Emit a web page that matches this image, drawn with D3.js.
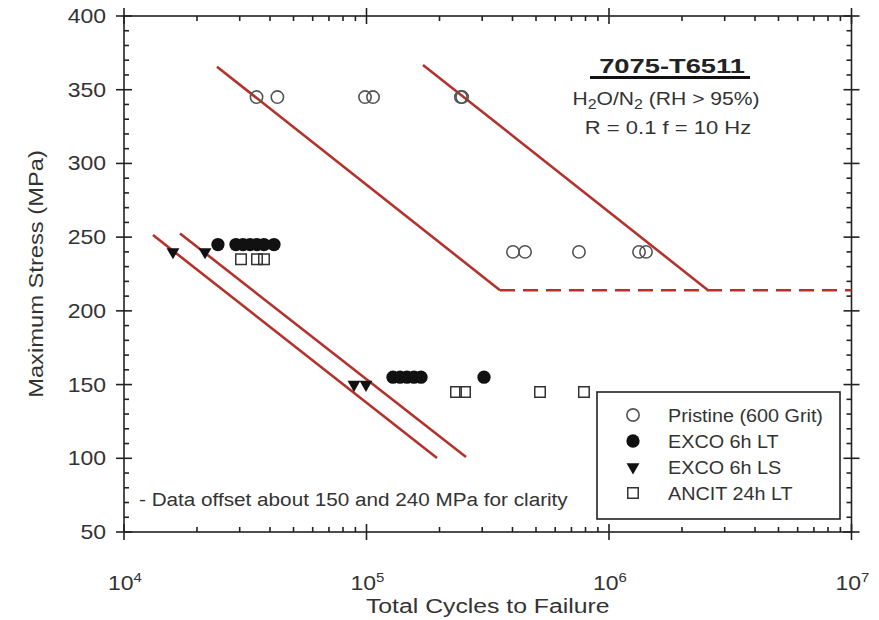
<!DOCTYPE html>
<html>
<head>
<meta charset="utf-8">
<script src="https://cdn.jsdelivr.net/npm/d3@7"></script>
<style>
  html, body { margin: 0; padding: 0; background: #fff; }
  svg text { font-family: "Liberation Sans", Arial, Helvetica, sans-serif; fill: #333; }
</style>
</head>
<body>
<svg id="chart" width="879" height="620"></svg>
<script>
// ---- data ----
const xTickExponents = [4, 5, 6, 7];
const yTickValues = [50, 100, 150, 200, 250, 300, 350, 400];

// Pristine (600 Grit)
const pristineCycles = [35200, 42900, 98600, 106400, 245000, 248000, 401800, 450600, 751900, 1330000, 1421000];
const pristineStress = [345, 345, 345, 345, 345, 345, 240, 240, 240, 240, 240];

// EXCO 6h LT
const excoLTCycles = [24400, 28950, 30960, 33100, 35340, 37770, 41550, 128600, 137500, 146900, 157000, 167800, 305200];
const excoLTStress = [245, 245, 245, 245, 245, 245, 245, 155, 155, 155, 155, 155, 155];

// EXCO 6h LS
const excoLSCycles = [15920, 21580, 88800, 99500];
const excoLSStress = [240, 240, 150, 150];

// ANCIT 24h LT
const ancitCycles = [30380, 35350, 37780, 233900, 254800, 519400, 788500];
const ancitStress = [235, 235, 235, 145, 145, 145, 145];

// fitted trend lines: [cycles, stress] end points
const fitPristineLow = [[24180, 365.6], [355200, 214]];
const fitPristineHigh = [[171000, 366.8], [2560000, 214]];
const fitEnduranceLimit = [[355200, 214], [1e7, 214]];
const fitExcoLS1 = [[13170, 251.4], [195300, 100.2]];
const fitExcoLS2 = [[17020, 252.5], [257200, 100.9]];

const legendLabels = ["Pristine (600 Grit)", "EXCO 6h LT", "EXCO 6h LS", "ANCIT 24h LT"];

// ---- layout ----
const svg = d3.select("#chart");
const plotL = 124, plotR = 851.5, plotT = 16, plotB = 532;
const x = d3.scaleLog().domain([1e4, 1e7]).range([plotL, plotR]);
const y = d3.scaleLinear().domain([50, 400]).range([plotB, plotT]);

const fitColor = "#b3322c";
const axisColor = "#222";

// text placed in a group so the lettering can be widened horizontally
function label(parent, tx, ty, str, size, sx, anchor, rot) {
  const g = parent.append("g")
    .attr("transform", `translate(${tx},${ty})` + (rot ? ` rotate(${rot})` : "") + ` scale(${sx},1)`);
  const t = g.append("text").attr("font-size", size).attr("text-anchor", anchor || "start");
  if (str !== null) t.text(str);
  return t;
}

// ---- frame and ticks ----
const axes = svg.append("g").attr("stroke", axisColor).attr("stroke-width", 1.6);
axes.append("rect").attr("x", plotL).attr("y", plotT).attr("width", plotR - plotL).attr("height", plotB - plotT)
  .attr("fill", "none");

const xAll = x.ticks(); // 1..9 multiples of each decade
const xMajorVals = xTickExponents.map(e => Math.pow(10, e));
const isMajorX = v => xMajorVals.some(m => Math.abs(m - v) / m < 1e-9);
const yAll = d3.range(50, 401, 10);
const isMajorY = v => yTickValues.includes(v);

xAll.forEach(v => {
  const px = x(v);
  const maj = isMajorX(v);
  axes.append("line").attr("x1", px).attr("x2", px).attr("y1", plotB + (maj ? 8 : 0)).attr("y2", plotB - (maj ? 8 : 5));
  axes.append("line").attr("x1", px).attr("x2", px).attr("y1", plotT - (maj ? 8 : 0)).attr("y2", plotT + (maj ? 8 : 5));
});
yAll.forEach(v => {
  const py = y(v);
  const maj = isMajorY(v);
  axes.append("line").attr("y1", py).attr("y2", py).attr("x1", plotL - (maj ? 8 : 0)).attr("x2", plotL + (maj ? 8 : 5));
  axes.append("line").attr("y1", py).attr("y2", py).attr("x1", plotR + (maj ? 8 : 0)).attr("x2", plotR - (maj ? 8 : 5));
});

// tick labels
const tickLayer = svg.append("g");
yTickValues.forEach(v => label(tickLayer, 106, y(v) + 7, String(v), 20, 1.15, "end"));
xTickExponents.forEach(e => {
  const t = label(tickLayer, x(Math.pow(10, e)) + 1, 590, null, 20, 1.15, "middle");
  t.append("tspan").text("10");
  t.append("tspan").attr("dy", -8).attr("font-size", 13).text(e);
});

// axis titles
label(svg, (plotL + plotR) / 2, 613, "Total Cycles to Failure", 21, 1.18, "middle");
label(svg, 43, (plotT + plotB) / 2, "Maximum Stress (MPa)", 21, 1.13, "middle", -90);

// ---- fitted lines ----
const line = d3.line().x(d => x(d[0])).y(d => y(d[1]));
const fits = svg.append("g").attr("fill", "none").attr("stroke", fitColor).attr("stroke-width", 2.6);
[fitPristineLow, fitPristineHigh, fitExcoLS1, fitExcoLS2].forEach(f => fits.append("path").attr("d", line(f)));
fits.append("path").attr("d", line(fitEnduranceLimit)).attr("stroke-dasharray", "15,8");

// ---- markers ----
const sym = {
  circle: d3.symbol().type(d3.symbolCircle).size(Math.PI * 38)(),
  dot: d3.symbol().type(d3.symbolCircle).size(Math.PI * 44)(),
  tri: d3.symbol().type(d3.symbolTriangle).size(72)(),
  square: d3.symbol().type(d3.symbolSquare).size(110)()
};
function styleMarker(sel, kind) {
  if (kind === "circle") sel.attr("fill", "none").attr("stroke", "#555").attr("stroke-width", 1.6);
  else if (kind === "square") sel.attr("fill", "none").attr("stroke", "#333").attr("stroke-width", 1.5);
  else sel.attr("fill", "#111").attr("stroke", "none");
}
function drawSeries(cycles, stress, kind) {
  const pts = cycles.map((c, i) => [c, stress[i]]);
  const p = svg.append("g").selectAll("path").data(pts).join("path")
    .attr("transform", d => `translate(${x(d[0])},${y(d[1])})` + (kind === "tri" ? " rotate(180)" : ""))
    .attr("d", sym[kind]);
  styleMarker(p, kind);
}
drawSeries(pristineCycles, pristineStress, "circle");
drawSeries(ancitCycles, ancitStress, "square");
drawSeries(excoLTCycles, excoLTStress, "dot");
drawSeries(excoLSCycles, excoLSStress, "tri");

// ---- legend ----
const lg = svg.append("g");
lg.append("rect").attr("x", 597).attr("y", 392).attr("width", 243).attr("height", 127)
  .attr("fill", "#fff").attr("stroke", axisColor).attr("stroke-width", 1.6);
const kinds = ["circle", "dot", "tri", "square"];
legendLabels.forEach((lab, i) => {
  const cy = 415 + i * 26;
  const m = lg.append("path").attr("d", sym[kinds[i]])
    .attr("transform", `translate(633,${cy})` + (kinds[i] === "tri" ? " rotate(180)" : ""));
  styleMarker(m, kinds[i]);
  label(lg, 668, cy + 6.5, lab, 18.5, 1.07, "start");
});

// ---- annotations ----
const ann = svg.append("g");
label(ann, 672, 73, "7075-T6511", 21, 1.3, "middle").attr("font-weight", "bold").style("fill", "#222");
ann.append("line").attr("x1", 590).attr("x2", 750).attr("y1", 77.5).attr("y2", 77.5)
  .attr("stroke", "#111").attr("stroke-width", 3);
const h = label(ann, 666, 105, null, 18.5, 1.14, "middle");
h.append("tspan").text("H");
h.append("tspan").attr("dy", 4).attr("font-size", 14).text("2");
h.append("tspan").attr("dy", -4).text("O/N");
h.append("tspan").attr("dy", 4).attr("font-size", 14).text("2");
h.append("tspan").attr("dy", -4).text(" (RH > 95%)");
label(ann, 668, 134, "R = 0.1 f = 10 Hz", 18.5, 1.19, "middle");

label(svg, 139, 506, "- Data offset about 150 and 240 MPa for clarity", 19, 1.09, "start");
</script>
</body>
</html>
